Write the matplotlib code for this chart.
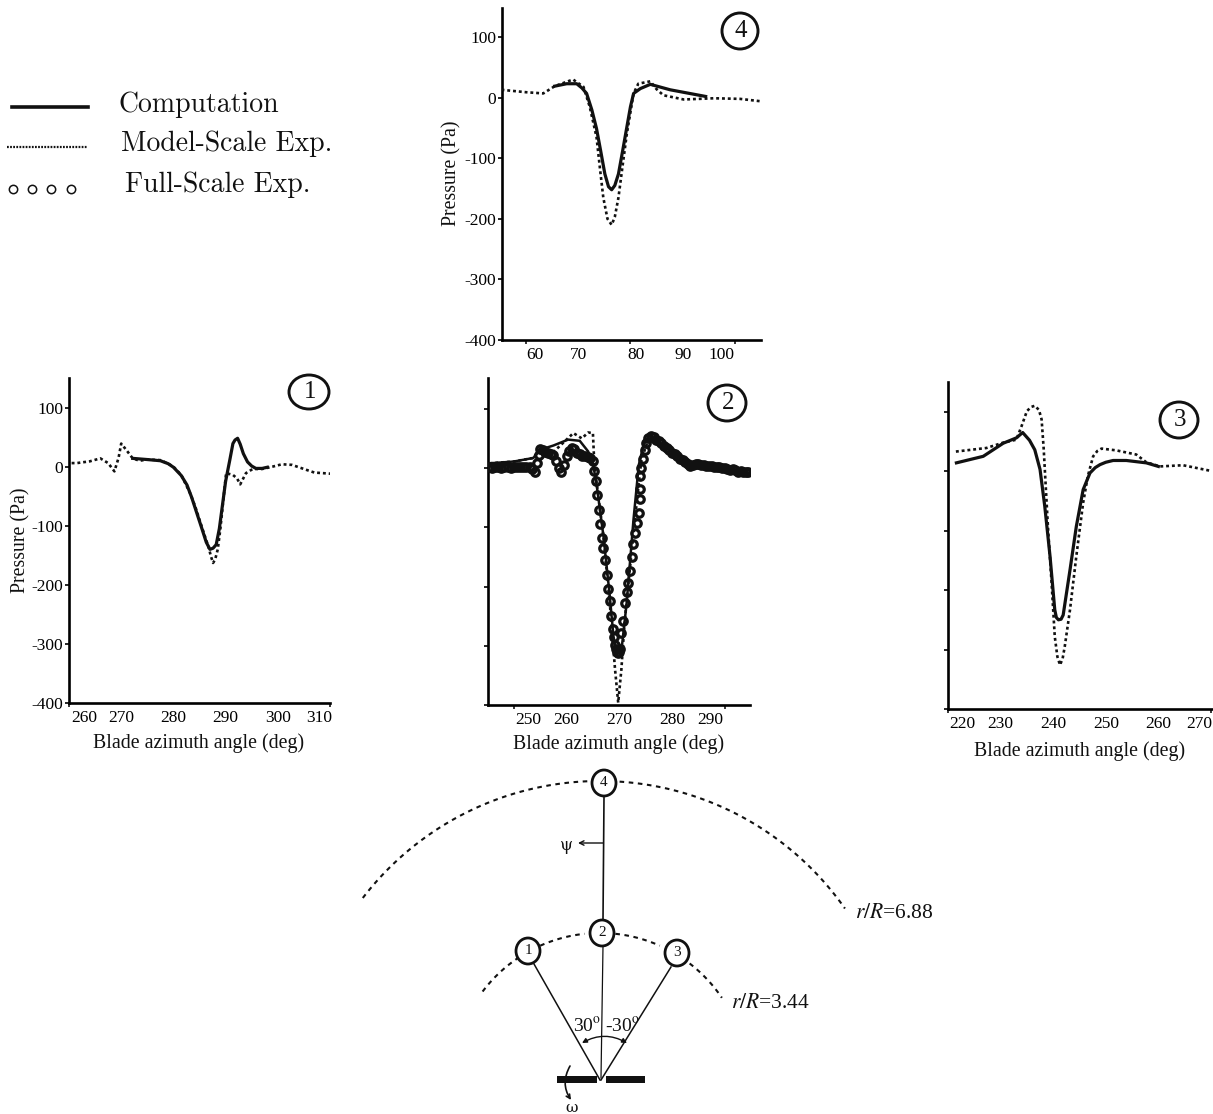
import numpy as np
import matplotlib
matplotlib.use("Agg")
import matplotlib.pyplot as plt
from matplotlib.patches import Ellipse, Rectangle, FancyArrowPatch

plt.rcParams['font.family'] = ['Liberation Serif', 'DejaVu Serif']
plt.rcParams['mathtext.fontset'] = 'stix'
plt.rcParams['axes.unicode_minus'] = False

W, H = 1213, 1114

# ---- data ----
p1_dot_x = [260.5, 261.5, 264, 266, 267.5, 268.7, 269.5, 270, 271, 272.2, 273.5, 275, 277.5, 279, 280, 281.5, 283.2, 284.2, 285, 286, 286.7, 287.2, 287.6, 288, 288.5, 289, 289.5, 290.1, 291.4, 292.2, 292.8, 293.9, 295.2, 297, 299, 300.8, 302.7, 305, 307, 310.2]
p1_dot_y = [6, 6, 9, 14, 6, -8, 15, 39, 28, 14, 10, 12, 11, 5, 0, -14, -45, -68, -90, -117, -135, -152, -163, -157, -140, -105, -62, -11, -14, -20, -30, -11, -4, -4, 0, 4, 3, -4, -10, -12]
p1_sol_x = [272.2, 275, 277.5, 279, 280, 281.5, 282.6, 283.5, 284.5, 285.5, 286.3, 287, 287.6, 288.2, 288.8, 289.4, 290, 290.8, 291.4, 291.8, 292.3, 292.8, 293.4, 294.2, 295, 295.8, 297, 298]
p1_sol_y = [14, 12, 10, 5, -1, -15, -31, -52, -79, -106, -128, -140, -138, -132, -105, -65, -25, 11, 39, 45, 48, 38, 22, 8, 1, -3, -3, -1]

p2_dot_x = [245.4, 250, 253.7, 255, 257.5, 261.3, 262.9, 264.1, 265, 265.2, 265.7, 267, 268.2, 269.2, 269.8, 270.4, 271, 272, 273.3, 274.2, 275.8, 277.7, 281, 284, 289.7, 294.5]
p2_dot_y = [8, 11, 17, 34, 27, 59, 50, 60, 59, 20, -25, -115, -228, -340, -396, -340, -261, -171, -59, 14, 56, 42, 22, 6, 0, -8]
p2_sol_x = [245.4, 250, 253.7, 255, 257.5, 260.3, 262.5, 264.1, 265, 265.7, 267, 268.2, 268.9, 269.5, 270.4, 271.4, 272.7, 273.7, 274.6, 275.8, 277.7, 281, 284, 289.7, 294.5]
p2_sol_y = [8, 11, 17, 31, 38, 48, 46, 28, 8, -28, -115, -216, -284, -312, -309, -228, -87, 5, 39, 56, 42, 22, 6, 0, -8]
p2_cir_x = [245.2, 245.8, 246.4, 247, 247.6, 248.2, 248.8, 249.4, 250, 250.6, 251.2, 251.8, 252.4, 253, 253.5, 254, 254.4, 254.7, 255, 255.5, 256, 256.5, 257, 257.5, 258, 258.5, 259, 259.5, 260, 260.5, 261, 261.5, 262, 262.5, 263, 263.5, 264, 264.5, 265, 265.2, 265.5, 265.8, 266.1, 266.4, 266.7, 267, 267.3, 267.6, 267.9, 268.2, 268.5, 268.8, 269, 269.2, 269.4, 269.6, 269.8, 270, 270.2, 270.4, 270.7, 271.1, 271.4, 271.7, 272, 272.4, 272.7, 273, 273.3, 273.7, 273.9, 273.9, 273.9, 274.2, 274.5, 274.8, 275.1, 275.5, 276, 276.5, 277, 277.5, 278, 278.5, 279, 279.5, 280, 280.5, 281, 281.5, 282, 282.5, 283, 283.5, 284, 284.5, 285, 285.5, 286, 286.5, 287, 287.5, 288, 288.5, 289, 289.5, 290, 290.5, 291, 291.5, 292, 292.5, 293, 293.5, 294, 294.5]
p2_cir_y = [1, 0, 1, 2, 0, 1, 1, 0, 1, 1, 1, 2, 2, 2, -2, -6, 8, 22, 32, 30, 27, 25, 24, 22, 12, 0, -6, 5, 20, 28, 33, 32, 26, 23, 21, 20, 19, 17, 12, -5, -22, -45, -70, -95, -118, -135, -155, -180, -205, -225, -250, -272, -285, -298, -305, -310, -312, -310, -305, -278, -258, -228, -210, -194, -174, -150, -129, -110, -93, -76, -53, -36, -14, 0, 15, 30, 42, 50, 54, 52, 48, 45, 42, 38, 34, 30, 26, 23, 20, 16, 13, 10, 7, 4, 5, 7, 6, 5, 5, 4, 3, 3, 2, 2, 1, 0, 0, -2, -3, -2, -4, -6, -5, -7, -7, -7]

p3_dot_x = [221.5, 227.3, 230.5, 233, 234, 235, 235.8, 236.5, 237.3, 237.8, 238.2, 239, 239.7, 240.3, 240.8, 241.3, 241.8, 242.2, 243.2, 244.4, 245.7, 246.6, 247.6, 248.4, 249.2, 252, 255.8, 257.7, 260.3, 264.7, 269.7]
p3_dot_y = [33, 39, 48, 53, 76, 101, 108, 110, 103, 87, 37, -93, -188, -278, -312, -326, -315, -295, -233, -143, -53, -8, 25, 34, 38, 35, 28, 15, 8, 10, 1]
p3_sol_x = [221.6, 226.7, 230.5, 233, 234.2, 235.5, 236.5, 237.5, 238.4, 239.4, 240.3, 240.6, 241, 241.5, 241.9, 243.2, 244.4, 245.7, 247, 248, 248.9, 250, 251.4, 253.9, 257.7, 260]
p3_sol_y = [14, 25, 47, 56, 65, 52, 36, 3, -59, -143, -233, -246, -250, -249, -242, -166, -93, -31, -3, 6, 11, 15, 18, 18, 14, 8]

p4_dot_x = [55.3, 60, 63.3, 65.5, 69, 71, 72.2, 73.5, 74.2, 74.8, 75.6, 76.4, 77, 77.7, 78.5, 79.3, 80.6, 81.5, 83.8, 85, 86.3, 90.2, 96, 101, 105]
p4_dot_y = [13, 9, 7, 19, 30, 18, -15, -65, -120, -165, -200, -210, -197, -165, -112, -60, 7, 23, 27, 14, 4, -3, -1, -2, -6]
p4_sol_x = [65.5, 67.8, 69.7, 70.7, 71.6, 72.6, 73.5, 74.3, 75.1, 75.8, 76.4, 77, 77.7, 78.5, 79.3, 80, 80.6, 81.9, 83.8, 87.6, 94.4]
p4_sol_y = [19, 23, 23, 16, 7, -20, -51, -88, -126, -147, -152, -145, -126, -88, -49, -15, 7, 15, 22, 13, 2]

y_ticks = [100, 0, -100, -200, -300, -400]
p1_xticks = [260, 270, 280, 290, 300, 310]
p2_xticks = [250, 260, 270, 280, 290]
p3_xticks = [220, 230, 240, 250, 260, 270]
p4_xticks = [60, 70, 80, 90, 100]
# label positions (the printed labels are not all centred under their ticks)
p1_xlabpos = [263, 270, 280, 290, 300, 308]
p2_xlabpos = [252.8, 260, 270, 280, 287.2]
p3_xlabpos = [222.8, 230, 240, 250, 260, 267.8]
p4_xlabpos = [61.7, 70, 81, 90, 97.5]

legend_labels = ['Computation', 'Model-Scale Exp.', 'Full-Scale Exp.']
xlabel = 'Blade azimuth angle (deg)'
ylabel = 'Pressure (Pa)'

fig = plt.figure(figsize=(W / 100, H / 100), dpi=100, facecolor='white')


def panel(l, r, t, b, xlim, ylim, xticks, labpos, show_y):
    ax = fig.add_axes([l / W, 1 - b / H, (r - l) / W, (b - t) / H])
    ax.set_xlim(*xlim)
    ax.set_ylim(*ylim)
    ax.patch.set_alpha(0)
    for s in ('top', 'right'):
        ax.spines[s].set_visible(False)
    for s in ('left', 'bottom'):
        ax.spines[s].set_linewidth(1.9)
    ax.set_yticks(y_ticks)
    ax.tick_params(axis='y', length=3, width=1.2, pad=1, labelsize=12.5, labelleft=show_y)
    ax.set_xticks(xticks, minor=True)
    ax.tick_params(axis='x', which='minor', length=3, width=1.1)
    ax.set_xticks(labpos)
    ax.set_xticklabels([str(v) for v in xticks])
    ax.tick_params(axis='x', which='major', length=0, pad=5, labelsize=12.5)
    return ax


DOT = dict(color='#111111', lw=1.9, linestyle=(0, (1.1, 1.1)), zorder=3)
SOL = dict(color='#111111', lw=2.3, zorder=4, solid_joinstyle='round')

ax1 = panel(69, 330, 378, 703, (260.4, 309.8), (-400, 150), p1_xticks, p1_xlabpos, True)
ax1.plot(p1_dot_x, p1_dot_y, **DOT)
ax1.plot(p1_sol_x, p1_sol_y, **SOL)

ax2 = panel(488, 750, 378, 705, (245.1, 294.8), (-400, 152), p2_xticks, p2_xlabpos, False)
ax2.plot(p2_dot_x, p2_dot_y, **DOT)
ax2.plot(p2_sol_x, p2_sol_y, color='#111111', lw=1.8, zorder=3)
ax2.plot(p2_cir_x, p2_cir_y, ls='none', marker='o', ms=5.4, mfc='none', mec='#111111', mew=2.3, zorder=4)

ax3 = panel(948, 1212, 382, 709, (220.1, 270.2), (-400, 150), p3_xticks, p3_xlabpos, False)
ax3.plot(p3_dot_x, p3_dot_y, **DOT)
ax3.plot(p3_sol_x, p3_sol_y, **SOL)

ax4 = panel(502, 761, 8, 340, (55.4, 105), (-400, 148), p4_xticks, p4_xlabpos, True)
ax4.plot(p4_dot_x, p4_dot_y, **DOT)
ax4.plot(p4_sol_x, p4_sol_y, **SOL)

# overlay in pixel coordinates for legend, captions and the sketch
ov = fig.add_axes([0, 0, 1, 1], zorder=10)
ov.set_xlim(0, W)
ov.set_ylim(H, 0)
ov.axis('off')
ov.patch.set_alpha(0)

# legend
ov.plot([12, 88], [107, 107], color='#111111', lw=2.6)
ov.plot([7, 87], [147, 147], color='#111111', lw=1.6, linestyle=(0, (0.8, 0.6)))
ov.plot([13, 32, 51, 71], [189, 189, 189, 189], ls='none', marker='o', ms=6, mfc='none', mec='#111111', mew=1.1)
for (lx, ly), s in zip([(118, 105), (121, 144), (125, 185)], legend_labels):
    ov.text(lx, ly, s, fontsize=20, family=['cmr10', 'Liberation Serif'], va='center', ha='left', color='#111111')

# axis captions
for cx, cy in [(199, 743), (619, 744), (1080, 751)]:
    ov.text(cx, cy, xlabel, fontsize=14.3, ha='center', va='center', color='#111111')
for cx, cy in [(21, 540), (452, 173)]:
    ov.text(cx, cy, ylabel, fontsize=14.3, rotation=90, ha='center', va='center', color='#111111')

# circled panel numbers
for cx, cy, rx, ry, s in [(309, 392, 20, 17, '1'), (727, 403, 19, 18, '2'),
                          (1179, 420, 19, 18, '3'), (740, 31, 18, 18, '4')]:
    ov.add_patch(Ellipse((cx, cy), 2 * rx, 2 * ry, fc='none', ec='#111111', lw=2.1))
    ov.text(cx + 1, cy, s, fontsize=18, ha='center', va='center', color='#111111')

# sketch: observer arcs around the rotor hub
hub = (600, 1080)
def arc_xy(r, a0, a1):
    a = np.radians(np.linspace(a0, a1, 120))
    return hub[0] + r * np.sin(a), hub[1] - r * np.cos(a)

dash = dict(color='#111111', lw=1.5, linestyle=(0, (2.2, 2.2)))
ov.plot(*arc_xy(299, -52.5, -2), **dash)
ov.plot(*arc_xy(299, 2, 55), **dash)
ov.plot(*arc_xy(147, -53, -34), **dash)
ov.plot(*arc_xy(147, -24, -6), **dash)
ov.plot(*arc_xy(147, 6, 24), **dash)
ov.plot(*arc_xy(147, 34, 56), **dash)

ov.plot([604, 603], [797, 920], color='#111111', lw=1.2)
ov.plot([603, 601], [946, 1078], color='#111111', lw=0.9)
ov.plot([534, 600], [964, 1080], color='#111111', lw=1.1)
ov.plot([671, 601], [967, 1080], color='#111111', lw=1.1)

for cx, cy, s in [(604, 783, '4'), (602, 933, '2'), (528, 951, '1'), (677, 953, '3')]:
    ov.add_patch(Ellipse((cx, cy), 24, 26, fc='white', ec='#111111', lw=2, zorder=5))
    ov.text(cx, cy, s, fontsize=11, ha='center', va='center', color='#111111', zorder=6)

ov.add_patch(Rectangle((557, 1076), 40, 7, fc='#111111', ec='none'))
ov.add_patch(Rectangle((606, 1076), 39, 7, fc='#111111', ec='none'))

ov.add_patch(FancyArrowPatch((603, 843), (578, 843), arrowstyle='->', mutation_scale=8, lw=1, color='#111111', shrinkA=0, shrinkB=0))
ov.text(566, 845, 'ψ', fontsize=12, family=['DejaVu Serif'], ha='center', va='center', color='#111111')
ov.add_patch(FancyArrowPatch((627, 1043), (582, 1043), arrowstyle='<|-|>', mutation_scale=7, lw=1, color='#111111',
                             connectionstyle='arc3,rad=0.28', shrinkA=0, shrinkB=0))
ov.add_patch(FancyArrowPatch((570, 1066), (571, 1100), arrowstyle='->', mutation_scale=7, lw=1.2, color='#111111',
                             connectionstyle='arc3,rad=0.3', shrinkA=0, shrinkB=0))
ov.text(572, 1108, 'ω', fontsize=11, family=['DejaVu Serif'], ha='center', va='center', color='#111111')
ov.text(587, 1026, '30$^{\\mathrm{o}}$', fontsize=14, ha='center', va='center', color='#111111')
ov.text(622, 1026, '-30$^{\\mathrm{o}}$', fontsize=14, ha='center', va='center', color='#111111')
ov.text(855, 913, '$\\mathit{r/R}$=6.88', fontsize=15.5, ha='left', va='center', color='#111111')
ov.text(731, 1003, '$\\mathit{r/R}$=3.44', fontsize=15.5, ha='left', va='center', color='#111111')

fig.savefig('out.png', dpi=100, facecolor='white')
